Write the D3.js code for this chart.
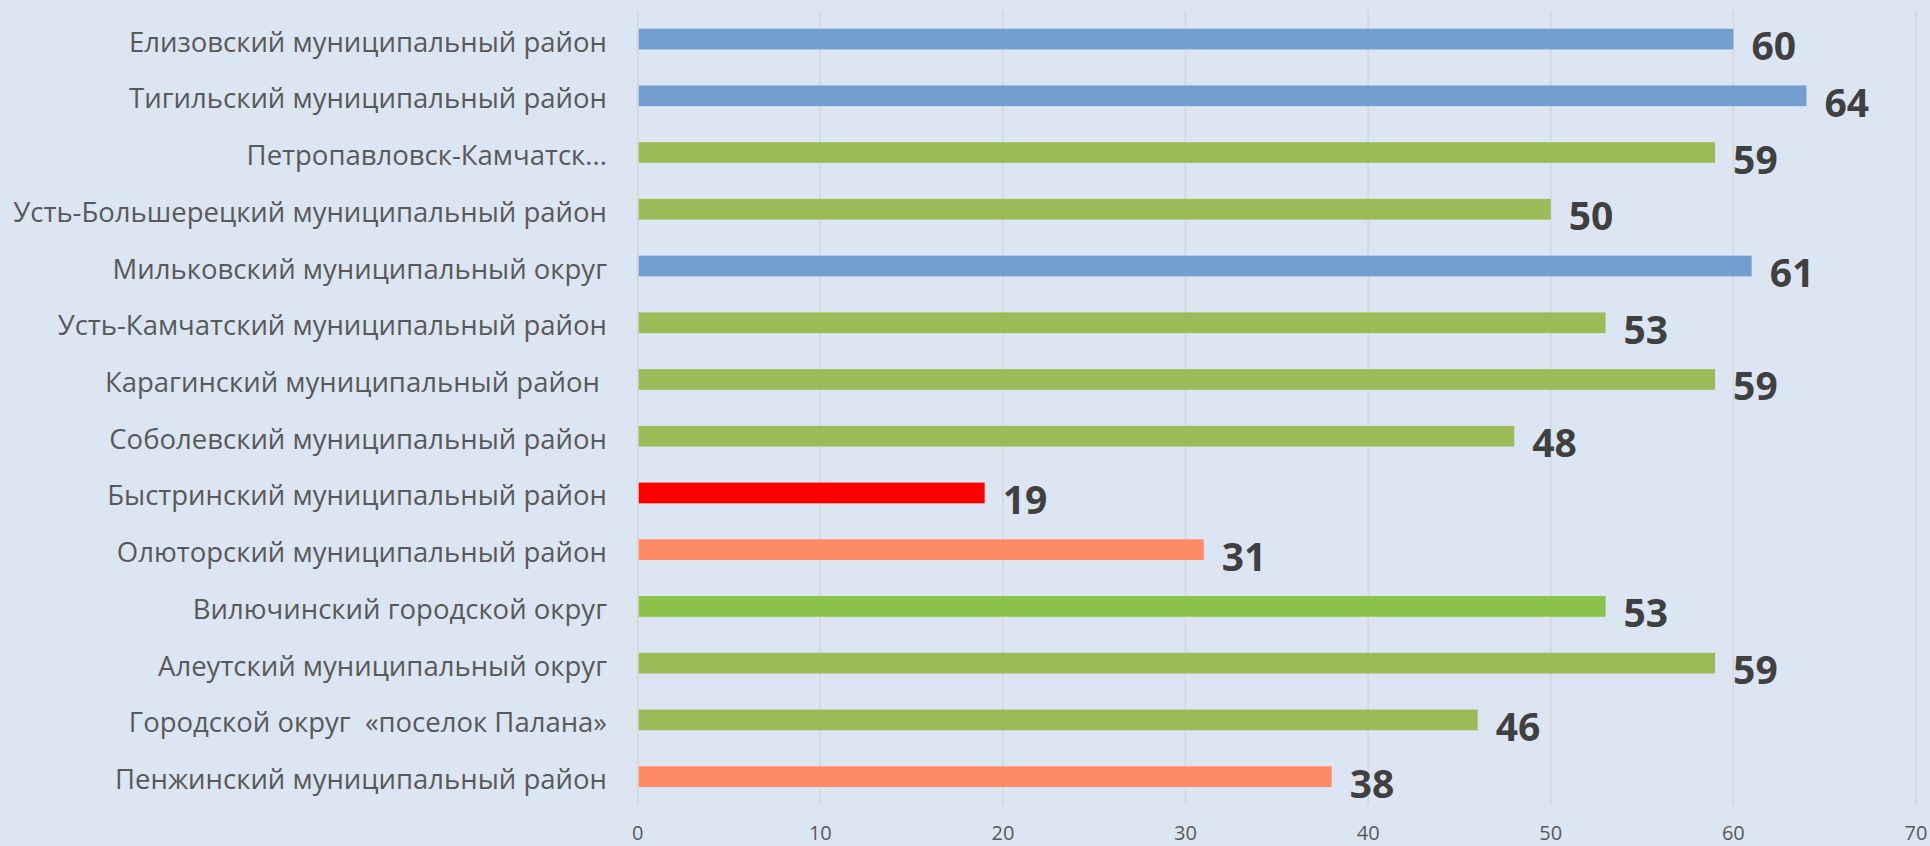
<!DOCTYPE html>
<html>
<head>
<meta charset="utf-8">
<script src="https://cdn.jsdelivr.net/npm/d3@7/dist/d3.min.js"></script>
<style>
  html, body { margin: 0; padding: 0; background: #DCE6F2; }
  svg { display: block; }
  text { white-space: pre; }
</style>
</head>
<body>
<svg id="chart" width="1930" height="846"></svg>
<script>
const categories = [
  "Елизовский муниципальный район",
  "Тигильский муниципальный район",
  "Петропавловск-Камчатск...",
  "Усть-Большерецкий муниципальный район",
  "Мильковский муниципальный округ",
  "Усть-Камчатский муниципальный район",
  "Карагинский муниципальный район ",
  "Соболевский муниципальный район",
  "Быстринский муниципальный район",
  "Олюторский муниципальный район",
  "Вилючинский городской округ",
  "Алеутский муниципальный округ",
  "Городской округ  «поселок Палана»",
  "Пенжинский муниципальный район"
];
const values = [60, 64, 59, 50, 61, 53, 59, 48, 19, 31, 53, 59, 46, 38];
const groups = ["blue", "blue", "green", "green", "blue", "green", "green", "green", "red", "salmon", "lightgreen", "green", "green", "salmon"];
const xTicks = [0, 10, 20, 30, 40, 50, 60, 70];

const color = d3.scaleOrdinal()
  .domain(["blue", "green", "lightgreen", "salmon", "red"])
  .range(["#729FCF", "#9BBB59", "#8BC34A", "#FF8A65", "#FF0000"]);

const svg = d3.select("#chart");
const W = 1930, H = 846;
svg.append("rect").attr("width", W).attr("height", H).attr("fill", "#DCE6F2");

const m = { left: 637.7, right: 1930 - 1916, top: 10.7, bottom: 846 - 805 };

const x = d3.scaleLinear().domain([0, 70]).range([m.left, W - m.right]);
const y = d3.scaleBand().domain(categories).range([m.top, H - m.bottom]).paddingInner(0.635).paddingOuter(0.3175);

// gridlines
svg.append("g")
  .selectAll("line")
  .data(xTicks)
  .join("line")
  .attr("x1", d => x(d)).attr("x2", d => x(d))
  .attr("y1", m.top).attr("y2", H - m.bottom)
  .attr("stroke", "#D6D6D6")
  .attr("stroke-width", 1.5);

// bars
svg.append("g")
  .selectAll("rect")
  .data(categories)
  .join("rect")
  .attr("x", x(0) + 1)
  .attr("y", d => y(d))
  .attr("height", y.bandwidth())
  .attr("width", (d, i) => x(values[i]) - x(0) - 1)
  .attr("fill", (d, i) => color(groups[i]));

// value labels
svg.append("g")
  .selectAll("text")
  .data(categories)
  .join("text")
  .attr("x", (d, i) => x(values[i]) + 18)
  .attr("y", d => y(d) + y.bandwidth() / 2 + 21)
  .attr("font-family", "'Open Sans', sans-serif")
  .attr("font-weight", "bold")
  .attr("font-size", 39)
  .attr("fill", "#404040")
  .text((d, i) => values[i]);

// category labels
svg.append("g")
  .selectAll("text")
  .data(categories)
  .join("text")
  .attr("x", 607)
  .attr("y", d => y(d) + y.bandwidth() / 2 + 12.5)
  .attr("text-anchor", "end")
  .attr("font-family", "'Open Sans', sans-serif")
  .attr("font-size", 27.5)
  .attr("fill", "#595959")
  .text(d => d);

// x axis tick labels
svg.append("g")
  .selectAll("text")
  .data(xTicks)
  .join("text")
  .attr("x", d => x(d))
  .attr("y", 840)
  .attr("text-anchor", "middle")
  .attr("font-family", "'Open Sans', sans-serif")
  .attr("font-size", 20)
  .attr("fill", "#595959")
  .text(d => d);
</script>
</body>
</html>
